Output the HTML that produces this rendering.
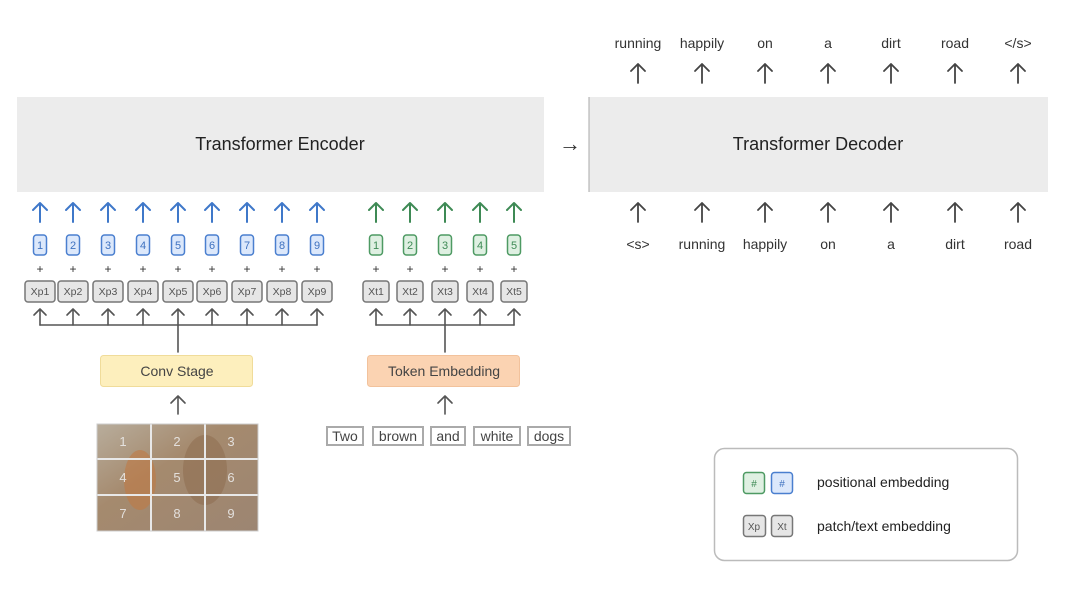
<!DOCTYPE html><html><head><style>
body{margin:0;width:1080px;height:605px;background:#fff;font-family:"Liberation Sans",sans-serif;position:relative;overflow:hidden}
svg{position:absolute;left:0;top:0}
</style></head><body>
<svg width="1080" height="605" viewBox="0 0 1080 605" font-family="Liberation Sans, sans-serif">
<defs>
<linearGradient id="g" x1="0" y1="0" x2="1" y2="1"><stop offset="0" stop-color="#b8ad9c"/><stop offset=".4" stop-color="#a58a6e"/><stop offset="1" stop-color="#9c8572"/></linearGradient>
</defs>
<rect x="17" y="97" width="527" height="95" fill="#ececec"/>
<text x="280" y="150" font-size="18" text-anchor="middle" fill="#222">Transformer Encoder</text>
<rect x="589" y="97" width="459" height="95" fill="#ececec"/>
<line x1="589" y1="97" x2="589" y2="192" stroke="#aaa"/>
<text x="818" y="150" font-size="18" text-anchor="middle" fill="#222">Transformer Decoder</text>
<text x="570" y="151" font-size="22" text-anchor="middle" fill="#333">→</text>
<g id="arrows" stroke-width="2" fill="none" stroke-linecap="round" stroke-linejoin="round">
<!-- blue -->
<g stroke="#3f78c9">
<path d="M40 222V203M33 210L40 203L47 210"/><path d="M73 222V203M66 210L73 203L80 210"/><path d="M108 222V203M101 210L108 203L115 210"/><path d="M143 222V203M136 210L143 203L150 210"/><path d="M178 222V203M171 210L178 203L185 210"/><path d="M212 222V203M205 210L212 203L219 210"/><path d="M247 222V203M240 210L247 203L254 210"/><path d="M282 222V203M275 210L282 203L289 210"/><path d="M317 222V203M310 210L317 203L324 210"/>
</g>
<g stroke="#3e8a55">
<path d="M376 222V203M369 210L376 203L383 210"/><path d="M410 222V203M403 210L410 203L417 210"/><path d="M445 222V203M438 210L445 203L452 210"/><path d="M480 222V203M473 210L480 203L487 210"/><path d="M514 222V203M507 210L514 203L521 210"/>
</g>
<g stroke="#555" stroke-width="1.6">
<path d="M40 325H317M178 325V352"/>
<path d="M40 325V309M34 315L40 309L46 315"/><path d="M73 325V309M67 315L73 309L79 315"/><path d="M108 325V309M102 315L108 309L114 315"/><path d="M143 325V309M137 315L143 309L149 315"/><path d="M178 325V309M172 315L178 309L184 315"/><path d="M212 325V309M206 315L212 309L218 315"/><path d="M247 325V309M241 315L247 309L253 315"/><path d="M282 325V309M276 315L282 309L288 315"/><path d="M317 325V309M311 315L317 309L323 315"/>
<path d="M376 325H514M445 325V352"/>
<path d="M376 325V309M370 315L376 309L382 315"/><path d="M410 325V309M404 315L410 309L416 315"/><path d="M445 325V309M439 315L445 309L451 315"/><path d="M480 325V309M474 315L480 309L486 315"/><path d="M514 325V309M508 315L514 309L520 315"/>
<path d="M178 414V396M171 403L178 396L185 403"/><path d="M445 414V396M438 403L445 396L452 403"/>
</g>
<g stroke="#444" stroke-width="1.8">
<path d="M638 83V64M631 71L638 64L645 71"/><path d="M702 83V64M695 71L702 64L709 71"/><path d="M765 83V64M758 71L765 64L772 71"/><path d="M828 83V64M821 71L828 64L835 71"/><path d="M891 83V64M884 71L891 64L898 71"/><path d="M955 83V64M948 71L955 64L962 71"/><path d="M1018 83V64M1011 71L1018 64L1025 71"/>
<path d="M638 222V203M631 210L638 203L645 210"/><path d="M702 222V203M695 210L702 203L709 210"/><path d="M765 222V203M758 210L765 203L772 210"/><path d="M828 222V203M821 210L828 203L835 210"/><path d="M891 222V203M884 210L891 203L898 210"/><path d="M955 222V203M948 210L955 203L962 210"/><path d="M1018 222V203M1011 210L1018 203L1025 210"/>
</g>
</g>
<g font-size="14" fill="#333" text-anchor="middle">
<text x="638" y="48">running</text><text x="702" y="48">happily</text><text x="765" y="48">on</text><text x="828" y="48">a</text><text x="891" y="48">dirt</text><text x="955" y="48">road</text><text x="1018" y="48">&lt;/s&gt;</text>
<text x="638" y="249">&lt;s&gt;</text><text x="702" y="249">running</text><text x="765" y="249">happily</text><text x="828" y="249">on</text><text x="891" y="249">a</text><text x="955" y="249">dirt</text><text x="1018" y="249">road</text>
</g>
<!-- position boxes -->
<g font-size="11" text-anchor="middle">
<g fill="#dce8fb" stroke="#4a7fcf" stroke-width="1.5">
<rect x="33.5" y="235" width="13" height="20" rx="3"/><rect x="66.5" y="235" width="13" height="20" rx="3"/><rect x="101.5" y="235" width="13" height="20" rx="3"/><rect x="136.5" y="235" width="13" height="20" rx="3"/><rect x="171.5" y="235" width="13" height="20" rx="3"/><rect x="205.5" y="235" width="13" height="20" rx="3"/><rect x="240.5" y="235" width="13" height="20" rx="3"/><rect x="275.5" y="235" width="13" height="20" rx="3"/><rect x="310.5" y="235" width="13" height="20" rx="3"/>
</g>
<g fill="#3f72c0"><text x="40" y="249">1</text><text x="73" y="249">2</text><text x="108" y="249">3</text><text x="143" y="249">4</text><text x="178" y="249">5</text><text x="212" y="249">6</text><text x="247" y="249">7</text><text x="282" y="249">8</text><text x="317" y="249">9</text></g>
<g fill="#dff0e2" stroke="#4e9a63" stroke-width="1.5">
<rect x="369.5" y="235" width="13" height="20" rx="3"/><rect x="403.5" y="235" width="13" height="20" rx="3"/><rect x="438.5" y="235" width="13" height="20" rx="3"/><rect x="473.5" y="235" width="13" height="20" rx="3"/><rect x="507.5" y="235" width="13" height="20" rx="3"/>
</g>
<g fill="#3e8a55"><text x="376" y="249">1</text><text x="410" y="249">2</text><text x="445" y="249">3</text><text x="480" y="249">4</text><text x="514" y="249">5</text></g>
<g fill="#333" font-size="12"><text x="40" y="273">+</text><text x="73" y="273">+</text><text x="108" y="273">+</text><text x="143" y="273">+</text><text x="178" y="273">+</text><text x="212" y="273">+</text><text x="247" y="273">+</text><text x="282" y="273">+</text><text x="317" y="273">+</text><text x="376" y="273">+</text><text x="410" y="273">+</text><text x="445" y="273">+</text><text x="480" y="273">+</text><text x="514" y="273">+</text></g>
<g fill="#e6e6e6" stroke="#777" stroke-width="1.5">
<rect x="25" y="281" width="30" height="21" rx="3"/><rect x="58" y="281" width="30" height="21" rx="3"/><rect x="93" y="281" width="30" height="21" rx="3"/><rect x="128" y="281" width="30" height="21" rx="3"/><rect x="163" y="281" width="30" height="21" rx="3"/><rect x="197" y="281" width="30" height="21" rx="3"/><rect x="232" y="281" width="30" height="21" rx="3"/><rect x="267" y="281" width="30" height="21" rx="3"/><rect x="302" y="281" width="30" height="21" rx="3"/>
<rect x="363" y="281" width="26" height="21" rx="3"/><rect x="397" y="281" width="26" height="21" rx="3"/><rect x="432" y="281" width="26" height="21" rx="3"/><rect x="467" y="281" width="26" height="21" rx="3"/><rect x="501" y="281" width="26" height="21" rx="3"/>
</g>
<g fill="#555" font-size="10.5"><text x="40" y="295">Xp1</text><text x="73" y="295">Xp2</text><text x="108" y="295">Xp3</text><text x="143" y="295">Xp4</text><text x="178" y="295">Xp5</text><text x="212" y="295">Xp6</text><text x="247" y="295">Xp7</text><text x="282" y="295">Xp8</text><text x="317" y="295">Xp9</text>
<text x="376" y="295">Xt1</text><text x="410" y="295">Xt2</text><text x="445" y="295">Xt3</text><text x="480" y="295">Xt4</text><text x="514" y="295">Xt5</text></g>
</g>
<rect x="100.5" y="355.5" width="152" height="31" rx="3" fill="#fdefbd" stroke="#f0dc9a"/>
<text x="177" y="376" font-size="14" text-anchor="middle" fill="#444">Conv Stage</text>
<rect x="367.5" y="355.5" width="152" height="31" rx="3" fill="#fbd3b2" stroke="#f2c29c"/>
<text x="444" y="376" font-size="14" text-anchor="middle" fill="#444">Token Embedding</text>
<!-- image -->
<rect x="97" y="424" width="161" height="107" fill="url(#g)"/>
<ellipse cx="140" cy="480" rx="16" ry="30" fill="#c07a45" opacity=".6"/>
<ellipse cx="205" cy="470" rx="22" ry="35" fill="#8c6a4c" opacity=".5"/>
<g stroke="#e8e8e8" stroke-width="2"><line x1="151" y1="424" x2="151" y2="531"/><line x1="205" y1="424" x2="205" y2="531"/><line x1="97" y1="459" x2="258" y2="459"/><line x1="97" y1="495" x2="258" y2="495"/></g>
<rect x="97" y="424" width="161" height="107" fill="none" stroke="#ccc"/>
<g font-size="13" fill="#eee" text-anchor="middle" opacity=".85"><text x="123" y="446">1</text><text x="177" y="446">2</text><text x="231" y="446">3</text><text x="123" y="482">4</text><text x="177" y="482">5</text><text x="231" y="482">6</text><text x="123" y="518">7</text><text x="177" y="518">8</text><text x="231" y="518">9</text></g>
<!-- words -->
<g fill="#fff" stroke="#aaa" stroke-width="2">
<rect x="327" y="427" width="36" height="18"/><rect x="373" y="427" width="50" height="18"/><rect x="431" y="427" width="34" height="18"/><rect x="474" y="427" width="46" height="18"/><rect x="528" y="427" width="42" height="18"/>
</g>
<g font-size="14" fill="#444" text-anchor="middle"><text x="345" y="441">Two</text><text x="398" y="441">brown</text><text x="448" y="441">and</text><text x="497" y="441">white</text><text x="549" y="441">dogs</text></g>
<!-- legend -->
<rect x="714.5" y="448.5" width="303" height="112" rx="10" fill="#fff" stroke="#bbb" stroke-width="1.5"/>
<rect x="743.5" y="472.5" width="21" height="21" rx="3" fill="#dff0e2" stroke="#4e9a63" stroke-width="1.5"/>
<rect x="771.5" y="472.5" width="21" height="21" rx="3" fill="#dce8fb" stroke="#4a7fcf" stroke-width="1.5"/>
<text x="754" y="487" font-size="10" text-anchor="middle" fill="#3e8a55">#</text>
<text x="782" y="487" font-size="10" text-anchor="middle" fill="#3f72c0">#</text>
<text x="817" y="487" font-size="14" fill="#222">positional embedding</text>
<rect x="743.5" y="515.5" width="22" height="21" rx="3" fill="#e6e6e6" stroke="#777" stroke-width="1.5"/>
<rect x="771.5" y="515.5" width="21" height="21" rx="3" fill="#e6e6e6" stroke="#777" stroke-width="1.5"/>
<text x="754" y="530" font-size="10" text-anchor="middle" fill="#555">Xp</text>
<text x="782" y="530" font-size="10" text-anchor="middle" fill="#555">Xt</text>
<text x="817" y="531" font-size="14" fill="#222">patch/text embedding</text>
</svg>
</body></html>
